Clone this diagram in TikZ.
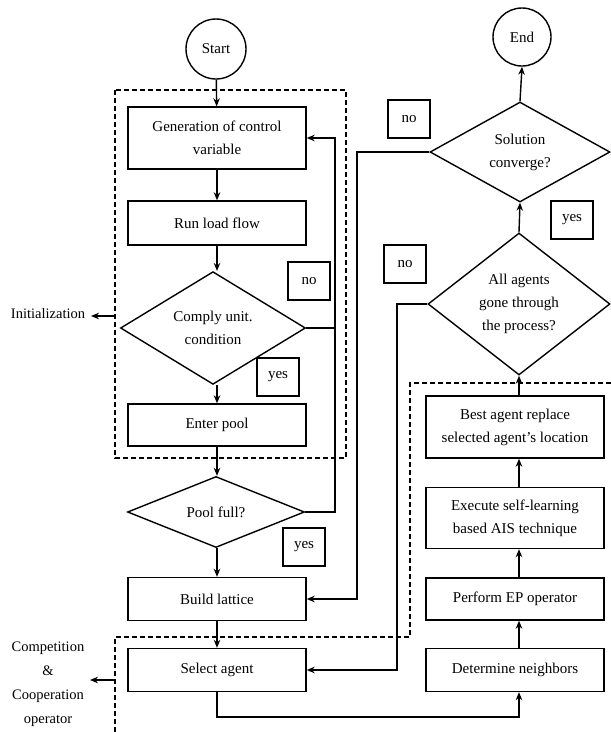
\documentclass[tikz,border=0pt]{standalone}
\usepackage{fontspec}
\setmainfont{Liberation Serif}
\usetikzlibrary{shapes.geometric,arrows.meta}
\begin{document}
\begin{tikzpicture}[x=1pt,y=-1pt,line width=1.4pt,
  txt/.style={font=\fontsize{15}{23}\selectfont,align=center,inner sep=0pt},
  procbox/.style={txt,draw,rectangle,minimum width=178pt},
  dia/.style={txt,draw,diamond,inner sep=0pt},
  term/.style={txt,draw,circle,minimum size=#1},
  tag/.style={txt,draw,rectangle,minimum width=42pt,minimum height=38pt},
  lbl/.style={font=\fontsize{14.5}{24}\selectfont,align=center,inner sep=0pt},
  arr/.style={-{Stealth[length=8pt,width=6.5pt]}},
  dashline/.style={dash pattern=on 5pt off 3pt,line width=1.2pt}]
\useasboundingbox (0,0) rectangle (611,732);
\clip (0,0) rectangle (611,732);

% left column
\node[term=60pt] (start) at (216,49) {Start};
\node[procbox,minimum height=62pt] (gen) at (217,138) {Generation of control\\variable};
\node[procbox,minimum height=44pt] (run) at (217,223) {Run load flow};
\node[dia,minimum width=185pt,minimum height=109pt] (comply) at (213,328) {Comply unit.\\condition};
\node[procbox,minimum height=42pt] (enter) at (217,425) {Enter pool};
\node[dia,minimum width=177pt,minimum height=71pt,aspect=2.5] (pool) at (216,512) {Pool full?};
\node[procbox,minimum height=43pt] (build) at (217,599) {Build lattice};
\node[procbox,minimum height=43pt] (select) at (217,670) {Select agent};

% right column
\node[term=58pt] (end) at (522,37) {End};
\node[dia,minimum width=180pt,minimum height=100pt,aspect=1.8] (sol) at (520,152) {Solution\\converge?};
\node[dia,minimum width=182pt,minimum height=142pt] (all) at (519,304) {All agents\\gone through\\the process?};
\node[procbox,minimum height=62pt] (best) at (515,427) {Best agent replace\\selected agent's location};
\node[procbox,minimum height=61pt] (exec) at (515,518) {Execute self-learning\\based AIS technique};
\node[procbox,minimum height=42pt] (perf) at (515,599) {Perform EP operator};
\node[procbox,minimum height=43pt] (det) at (515,670) {Determine neighbors};

% tags
\node[tag] (no1) at (309,281) {no};
\node[tag] (yes1) at (278,377) {yes};
\node[tag] (yes2) at (304,547) {yes};
\node[tag] (no2) at (409,119) {no};
\node[tag] (yes3) at (572,220) {yes};
\node[tag] (no3) at (405,264) {no};

% side labels
\node[lbl] (init) at (48,314) {Initialization};
\node[lbl] (comp) at (48,684) {Competition\\\&\\Cooperation\\operator};

% dashed groups
\draw[dashline] (115,90) rectangle (346,458);
\draw[dashline] (115,740) -- (115,637) -- (410,637) -- (410,383) -- (620,383);
\coordinate (ia) at (115,316);
\coordinate (ca) at (115,680);
\draw[arr] (ia) -- (91,316);
\draw[arr] (ca) -- (90,680);

% main flow
\draw[arr] (start) -- (gen);
\draw[arr] (gen) -- (run);
\draw[arr] (run.south) -- (run.south |- comply.north);
\draw[arr] (comply.south -| enter.north) -- (enter.north);
\draw[arr] (enter.south) -- (enter.south |- pool.north);
\draw[arr] (pool.south -| build.north) -- (build.north);
\draw[arr] (build) -- (select);

% left loops
\coordinate (lx) at (335,0);
\draw[arr] (comply.east) -- (comply.east -| lx) |- (gen.east);
\draw (pool.east) -- (pool.east -| lx) -- (comply.east -| lx);

% right loops
\coordinate (lx2) at (357,0);
\coordinate (lx3) at (397,0);
\draw[arr] (sol.west) -- (sol.west -| lx2) |- (build.east);
\draw[arr] (all.west) -- (all.west -| lx3) |- (select.east);

% bottom connector
\coordinate (lb) at (0,717);
\draw[arr] (select.south) -- (select.south |- lb) -| (det.south -| all.south);

% right flow upward
\draw[arr] (det.north -| all.south) -- (perf.south -| all.south);
\draw[arr] (perf.north -| all.south) -- (exec.south -| all.south);
\draw[arr] (exec.north -| all.south) -- (best.south -| all.south);
\draw[arr] (best.north -| all.south) -- (all.south);
\draw[arr] (all.north) -- (sol.south);
\draw[arr] (sol.north) -- (end.south);
\end{tikzpicture}
\end{document}
